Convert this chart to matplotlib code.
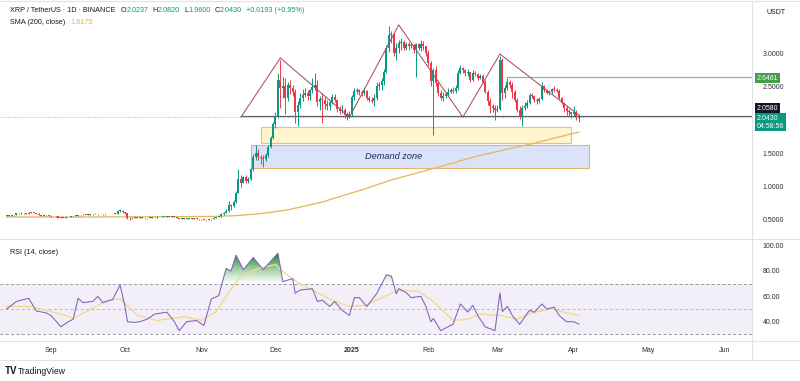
import matplotlib
matplotlib.use("Agg")
import matplotlib.pyplot as plt
import matplotlib.dates as mdates
from matplotlib.patches import Rectangle
from matplotlib.path import Path
from matplotlib.colors import LinearSegmentedColormap
from matplotlib.lines import Line2D
import numpy as np
import pandas as pd

plt.rcParams['font.family'] = ['Liberation Sans', 'DejaVu Sans']

# ---- daily XRP/USDT candles, 2024-08-14 .. 2025-04-03 (open = previous close)
start_date = "2024-08-14"
first_open = 0.560
closes = [
    # Aug
    0.566, 0.567, 0.568, 0.571, 0.602, 0.600, 0.603, 0.605, 0.596, 0.612, 0.607, 0.606, 0.592, 0.575, 0.567, 0.571, 0.568, 0.563,
    # Sep
    0.558, 0.562, 0.556, 0.536, 0.531, 0.531, 0.541, 0.549, 0.555, 0.562, 0.567, 0.570, 0.573, 0.577, 0.576, 0.579, 0.585, 0.589,
    0.590, 0.588, 0.589, 0.586, 0.589, 0.590, 0.589, 0.590, 0.592, 0.635, 0.641, 0.614,
    # Oct
    0.600, 0.531, 0.525, 0.535, 0.533, 0.538, 0.531, 0.532, 0.527, 0.531, 0.537, 0.541, 0.538, 0.549, 0.543, 0.547, 0.547, 0.549,
    0.547, 0.553, 0.542, 0.532, 0.519, 0.526, 0.516, 0.521, 0.524, 0.521, 0.530, 0.518, 0.510,
    # Nov
    0.508, 0.502, 0.497, 0.508, 0.512, 0.535, 0.545, 0.556, 0.590, 0.610, 0.631, 0.720, 0.705, 0.770, 0.910, 1.110, 1.060, 1.140,
    1.090, 1.110, 1.260, 1.440, 1.500, 1.450, 1.430, 1.410, 1.470, 1.600, 1.730, 1.940,
    # Dec
    2.060, 2.600, 2.480, 2.500, 2.320, 2.520, 2.470, 2.420, 2.120, 2.220, 2.330, 2.370, 2.400, 2.350, 2.440, 2.490, 2.520, 2.270,
    2.310, 2.290, 2.230, 2.200, 2.270, 2.340, 2.290, 2.160, 2.130, 2.150, 2.070, 2.050, 2.080,
    # Jan
    2.340, 2.430, 2.440, 2.410, 2.400, 2.430, 2.330, 2.300, 2.280, 2.320, 2.500, 2.520, 2.580, 2.720, 3.080, 3.270, 3.280, 3.000,
    3.080, 3.150, 3.160, 3.080, 3.130, 3.100, 3.120, 3.040, 3.130, 3.080, 3.130, 3.100, 3.000,
    # Feb
    2.850, 2.580, 2.750, 2.550, 2.400, 2.330, 2.350, 2.380, 2.420, 2.440, 2.430, 2.480, 2.700, 2.780, 2.740, 2.700, 2.710, 2.600,
    2.700, 2.680, 2.620, 2.660, 2.570, 2.420, 2.280, 2.200, 2.170, 2.140,
    # Mar
    2.160, 2.900, 2.400, 2.480, 2.560, 2.520, 2.420, 2.300, 2.150, 2.050, 2.170, 2.210, 2.250, 2.370, 2.350, 2.300, 2.280, 2.310,
    2.500, 2.440, 2.400, 2.410, 2.460, 2.450, 2.430, 2.330, 2.250, 2.170, 2.130, 2.110, 2.080,
    # Apr
    2.120, 2.0237, 2.0430,
]
highs = [
    0.572, 0.575, 0.574, 0.576, 0.610, 0.612, 0.615, 0.612, 0.608, 0.620, 0.616, 0.612, 0.610, 0.598, 0.580, 0.580, 0.576, 0.572,
    0.568, 0.566, 0.567, 0.560, 0.542, 0.537, 0.546, 0.552, 0.560, 0.567, 0.575, 0.576, 0.578, 0.584, 0.582, 0.585, 0.592, 0.596,
    0.598, 0.596, 0.594, 0.593, 0.596, 0.597, 0.596, 0.597, 0.600, 0.645, 0.660, 0.645,
    0.625, 0.605, 0.540, 0.540, 0.541, 0.542, 0.544, 0.538, 0.536, 0.535, 0.542, 0.546, 0.545, 0.555, 0.552, 0.553, 0.552, 0.556,
    0.552, 0.558, 0.556, 0.545, 0.536, 0.530, 0.530, 0.525, 0.528, 0.529, 0.535, 0.533, 0.522,
    0.516, 0.512, 0.506, 0.512, 0.518, 0.545, 0.552, 0.565, 0.598, 0.625, 0.660, 0.780, 0.740, 0.800, 0.930, 1.270, 1.170, 1.160,
    1.170, 1.140, 1.280, 1.490, 1.630, 1.560, 1.480, 1.470, 1.500, 1.620, 1.750, 1.960,
    2.120, 2.700, 2.900, 2.640, 2.620, 2.570, 2.600, 2.520, 2.460, 2.280, 2.400, 2.460, 2.480, 2.440, 2.460, 2.620, 2.700, 2.590,
    2.360, 2.400, 2.340, 2.300, 2.300, 2.380, 2.380, 2.310, 2.200, 2.220, 2.180, 2.120, 2.130,
    2.370, 2.480, 2.470, 2.460, 2.440, 2.480, 2.450, 2.360, 2.340, 2.380, 2.560, 2.560, 2.620, 2.760, 3.120, 3.400, 3.330, 3.300,
    3.150, 3.200, 3.220, 3.200, 3.170, 3.160, 3.150, 3.130, 3.150, 3.150, 3.190, 3.180, 3.110,
    3.050, 2.880, 2.780, 2.800, 2.600, 2.450, 2.420, 2.420, 2.470, 2.480, 2.490, 2.520, 2.740, 2.820, 2.790, 2.760, 2.760, 2.720,
    2.740, 2.730, 2.700, 2.690, 2.680, 2.600, 2.450, 2.320, 2.240, 2.220,
    2.220, 2.950, 2.920, 2.520, 2.620, 2.600, 2.560, 2.440, 2.320, 2.210, 2.220, 2.270, 2.290, 2.400, 2.400, 2.370, 2.320, 2.340,
    2.560, 2.520, 2.460, 2.440, 2.480, 2.500, 2.480, 2.460, 2.340, 2.270, 2.200, 2.160, 2.120,
    2.200, 2.140, 2.0820,
]
lows = [
    0.556, 0.560, 0.562, 0.565, 0.568, 0.592, 0.595, 0.595, 0.588, 0.592, 0.601, 0.600, 0.586, 0.568, 0.557, 0.562, 0.561, 0.558,
    0.552, 0.553, 0.551, 0.530, 0.525, 0.524, 0.528, 0.538, 0.545, 0.551, 0.557, 0.563, 0.566, 0.569, 0.570, 0.571, 0.576, 0.581,
    0.584, 0.582, 0.584, 0.580, 0.582, 0.584, 0.583, 0.584, 0.586, 0.588, 0.626, 0.606,
    0.596, 0.520, 0.505, 0.522, 0.527, 0.529, 0.526, 0.525, 0.522, 0.520, 0.527, 0.533, 0.534, 0.535, 0.538, 0.540, 0.541, 0.543,
    0.543, 0.545, 0.538, 0.528, 0.512, 0.514, 0.510, 0.513, 0.516, 0.516, 0.518, 0.512, 0.505,
    0.500, 0.496, 0.490, 0.493, 0.503, 0.508, 0.528, 0.540, 0.550, 0.582, 0.600, 0.625, 0.650, 0.690, 0.760, 0.900, 0.990, 1.050,
    1.050, 1.060, 1.100, 1.230, 1.400, 1.400, 1.340, 1.300, 1.380, 1.450, 1.580, 1.720,
    1.880, 2.030, 2.180, 2.330, 2.080, 2.280, 2.380, 2.350, 1.950, 1.900, 2.180, 2.280, 2.340, 2.300, 2.300, 2.400, 2.440, 2.200,
    2.150, 1.950, 2.160, 2.150, 2.150, 2.240, 2.260, 2.120, 2.090, 2.100, 2.030, 2.000, 2.020,
    2.060, 2.300, 2.380, 2.370, 2.360, 2.370, 2.300, 2.260, 2.250, 2.200, 2.300, 2.450, 2.450, 2.520, 2.700, 3.020, 3.150, 2.950,
    2.900, 3.000, 3.050, 3.040, 3.050, 3.050, 3.070, 3.000, 2.640, 3.050, 3.030, 3.050, 2.950,
    2.800, 2.500, 1.770, 2.500, 2.360, 2.300, 2.280, 2.320, 2.350, 2.400, 2.400, 2.400, 2.450, 2.680, 2.700, 2.660, 2.660, 2.560,
    2.580, 2.650, 2.590, 2.610, 2.550, 2.400, 2.220, 2.100, 2.110, 1.990,
    2.110, 2.140, 2.300, 2.330, 2.440, 2.470, 2.320, 2.260, 2.110, 2.010, 1.900, 2.140, 2.170, 2.230, 2.320, 2.270, 2.240, 2.250,
    2.290, 2.420, 2.380, 2.370, 2.390, 2.410, 2.410, 2.310, 2.230, 2.120, 2.070, 2.060, 2.020,
    2.050, 1.990, 1.9600,
]

# ---- SMA(200, close)
sma_dates = ["2024-08-14", "2024-09-15", "2024-10-15", "2024-11-05", "2024-11-15", "2024-11-25", "2024-12-05",
             "2024-12-12", "2024-12-20", "2024-12-27", "2025-01-05", "2025-01-17", "2025-02-04", "2025-02-20",
             "2025-03-05", "2025-03-16", "2025-04-03"]
sma_vals = [0.545, 0.545, 0.55, 0.553, 0.565, 0.595, 0.645, 0.70, 0.77, 0.85, 0.95, 1.10, 1.28, 1.45, 1.56, 1.65, 1.8175]

# ---- RSI(14) and its MA
rsi_dates = ["2024-08-14", "2024-08-18", "2024-08-23", "2024-08-26", "2024-08-30",
             "2024-09-01", "2024-09-05", "2024-09-08", "2024-09-10", "2024-09-12", "2024-09-14", "2024-09-18", "2024-09-20",
             "2024-09-22", "2024-09-26", "2024-09-29",
             "2024-10-01", "2024-10-02", "2024-10-05", "2024-10-07", "2024-10-10", "2024-10-13", "2024-10-18", "2024-10-21",
             "2024-10-23", "2024-10-26", "2024-10-30",
             "2024-11-02", "2024-11-05", "2024-11-08", "2024-11-11", "2024-11-13", "2024-11-15", "2024-11-18", "2024-11-22",
             "2024-11-26",
             "2024-12-02", "2024-12-04", "2024-12-08", "2024-12-09", "2024-12-11", "2024-12-16", "2024-12-18", "2024-12-20",
             "2024-12-23", "2024-12-25", "2024-12-28", "2024-12-31",
             "2025-01-02", "2025-01-04", "2025-01-07", "2025-01-11", "2025-01-15", "2025-01-17", "2025-01-19", "2025-01-20",
             "2025-01-23", "2025-01-25", "2025-01-29", "2025-01-31",
             "2025-02-02", "2025-02-03", "2025-02-06", "2025-02-09", "2025-02-11", "2025-02-14", "2025-02-17", "2025-02-19",
             "2025-02-21", "2025-02-24", "2025-02-26", "2025-02-28",
             "2025-03-02", "2025-03-03", "2025-03-05", "2025-03-07", "2025-03-10", "2025-03-12", "2025-03-14", "2025-03-16",
             "2025-03-19", "2025-03-21", "2025-03-24", "2025-03-26", "2025-03-29",
             "2025-04-01", "2025-04-03"]
rsi_vals = [50, 56, 58.5, 48.5, 47,
            45, 36, 40, 42, 58.5, 55, 56, 60, 55, 57.5, 69,
            52, 40, 39.5, 40, 42, 46, 47.5, 40, 33, 40, 41,
            37, 58, 60.5, 82, 80, 92.5, 81, 90.6, 81,
            94, 71.6, 74, 62.5, 65, 66, 56, 57, 52, 56, 49, 45,
            59, 59, 52, 62, 77, 76, 62, 66, 63, 59, 60, 52,
            40, 42.5, 33, 36, 38, 54, 47.5, 53, 45, 36, 34.5, 33,
            62.7, 48, 52, 45, 38, 43.5, 49, 47.5, 54, 50, 51.5, 45, 40,
            40, 38.13]
rsi_ma_dates = ["2024-08-14", "2024-08-24", "2024-09-07", "2024-09-10", "2024-09-24", "2024-09-29", "2024-10-06",
                "2024-10-14", "2024-10-25", "2024-11-01", "2024-11-07", "2024-11-12", "2024-11-17", "2024-11-24",
                "2024-12-01", "2024-12-05", "2024-12-10", "2024-12-17", "2024-12-24", "2024-12-31", "2025-01-07",
                "2025-01-13", "2025-01-20", "2025-01-28", "2025-02-03", "2025-02-11", "2025-02-17", "2025-02-22",
                "2025-03-02", "2025-03-09", "2025-03-15", "2025-03-23", "2025-03-29", "2025-04-03"]
rsi_ma_vals = [52, 52, 45, 42.5, 57, 58, 45, 41, 44, 41, 48, 63, 76, 82, 85, 78, 71, 64, 57, 52,
               53, 59, 65, 64, 56, 41, 42, 46, 45, 42, 47, 50, 47, 44.89]

# ---- drawings
zigzag_dates = ["2024-11-17", "2024-12-03", "2024-12-31", "2025-01-20", "2025-02-15", "2025-03-02", "2025-04-03"]
zigzag_prices = [2.04, 2.925, 2.04, 3.42, 2.04, 2.985, 2.07]
support_level, support_from = 2.058, "2024-11-17"
resist_level, resist_from = 2.6461, "2025-03-05"
zone_yellow = ("2024-11-25", "2025-03-31", 1.653, 1.892)
zone_demand = ("2024-11-21", "2025-04-07", 1.278, 1.623)
month_ticks = ["2024-09-01", "2024-10-01", "2024-11-01", "2024-12-01", "2025-01-01",
               "2025-02-01", "2025-03-01", "2025-04-01", "2025-05-01", "2025-06-01"]
month_labels = ["Sep", "Oct", "Nov", "Dec", "2025", "Feb", "Mar", "Apr", "May", "Jun"]
price_ticks = [0.5, 1.0, 1.5, 2.5, 3.0]
rsi_ticks = [40, 60, 80, 100]

UP, DOWN = "#089981", "#f23645"
W, H = 800, 381


def fx(px):
    return px / W


def fy(py):
    return 1 - py / H


def dn(s):
    return mdates.date2num(pd.to_datetime(s))


fig = plt.figure(figsize=(W / 100, H / 100), dpi=100)
ax = fig.add_axes([0, fy(238), fx(752), (238 - 2) / H])
axr = fig.add_axes([0, fy(340), fx(752), 100 / H], sharex=ax)

d0 = dn(start_date)
ax.set_xlim(d0 - 2.67, d0 + 302.2)
ax.set_ylim(0.2305, 3.7635)

# candles
x = mdates.date2num(pd.date_range(start_date, periods=len(closes), freq="D"))
c = np.array(closes)
o = np.array([first_open] + closes[:-1])
hi = np.array(highs)
lo = np.array(lows)
col = np.where(c >= o, UP, DOWN)
ax.vlines(x, lo, hi, colors=col, lw=0.7, zorder=4)
ax.bar(x, np.maximum(np.abs(c - o), 0.008), bottom=np.minimum(o, c), width=0.8,
       color=col, lw=0, zorder=5)

# zones
for (a, b, y0, y1), fc, ec in [(zone_demand, "#dbe3fa", "#e3b46c"), (zone_yellow, "#fff5cf", "#e8c36e")]:
    ax.add_patch(Rectangle((dn(a), y0), dn(b) - dn(a), y1 - y0, fc=fc, ec=ec, lw=0.8, zorder=2))
ax.text(dn("2025-01-18"), (zone_demand[2] + zone_demand[3]) / 2, "Demand zone", style="italic",
        fontsize=6.6, color="#1d2b55", ha="center", va="center", zorder=6)

# SMA
ax.plot(mdates.date2num(pd.to_datetime(sma_dates)), sma_vals, color="#e8b45c", lw=0.9, zorder=3)

# lines
xr = ax.get_xlim()[1]
ax.plot([dn(support_from), xr], [support_level] * 2, color="#5d6066", lw=0.9, zorder=3)
ax.plot([dn(resist_from), xr], [resist_level] * 2, color="#8fbf86", lw=0.9, zorder=3)
ax.axhline(closes[-1], color="#8a9a9a", lw=0.6, ls=(0, (1, 2)), zorder=3)
ax.plot(mdates.date2num(pd.to_datetime(zigzag_dates)), zigzag_prices, color="#a8505f", lw=0.75, zorder=6)

# RSI pane
axr.axhspan(30, 70, color="#7e57c2", alpha=0.09, lw=0)
for lvl, a in [(70, 1), (50, 0.6), (30, 1)]:
    axr.axhline(lvl, color="#9598a1", lw=0.7, ls=(0, (3, 2.5)), alpha=a)
rx = mdates.date2num(pd.to_datetime(rsi_dates))
ry = np.array(rsi_vals)
fb = axr.fill_between(rx, 70, ry, where=ry > 70, interpolate=True, facecolor="none", lw=0)
paths = fb.get_paths()
if paths:
    cmap = LinearSegmentedColormap.from_list("ob", [(0.35, 0.72, 0.36, 0.0), (0.12, 0.50, 0.22, 1.0)])
    img = axr.imshow(np.linspace(0, 1, 100).reshape(-1, 1), cmap=cmap, aspect="auto", origin="lower",
                     extent=[rx[0], rx[-1], 70, 93], zorder=1)
    img.set_clip_path(Path.make_compound_path(*paths), transform=axr.transData)
axr.set_ylim(25.6, 104.4)
axr.plot(mdates.date2num(pd.to_datetime(rsi_ma_dates)), rsi_ma_vals, color="#f3d98e", lw=1.0, zorder=2)
axr.plot(rx, ry, color="#7e62b8", lw=0.75, zorder=3)
ax.set_xlim(d0 - 2.67, d0 + 302.2)

# axes styling
for a in (ax, axr):
    for s in a.spines.values():
        s.set_visible(False)
    a.yaxis.tick_right()
    a.tick_params(axis="y", length=0, pad=7.5, labelsize=5, labelcolor="#2a2e39")
ax.set_yticks(price_ticks)
ax.set_yticklabels([f"{v:.4f}" for v in price_ticks])
axr.set_yticks(rsi_ticks)
axr.set_yticklabels([f"{v:.2f}" for v in rsi_ticks])
ax.tick_params(axis="x", bottom=False, labelbottom=False)
axr.set_xticks(mdates.date2num(pd.to_datetime(month_ticks)))
axr.set_xticklabels(month_labels)
axr.tick_params(axis="x", length=0, pad=5, labelsize=5, labelcolor="#2a2e39")
for t in axr.get_xticklabels():
    if t.get_text() == "2025":
        t.set_fontweight("bold")

# pane separators
for seg in [((0, 800), (1, 1)), ((0, 800), (239, 239)), ((0, 800), (341, 341)), ((752, 752), (1, 360)),
            ((0, 800), (360, 360))]:
    fig.add_artist(Line2D([fx(seg[0][0]), fx(seg[0][1])], [fy(seg[1][0]), fy(seg[1][1])],
                          color="#e0e3eb", lw=0.8))


# header texts
def chain(pieces, px, py, size=5.2):
    t = fig.text(fx(px), fy(py), pieces[0][0], color=pieces[0][1], fontsize=size, va="center")
    for s, cl, gap in pieces[1:]:
        t = ax.annotate(s, xy=(1, 0.5), xycoords=t, xytext=(gap, 0), textcoords="offset points",
                        color=cl, fontsize=size, va="center", annotation_clip=False)
    return t


DK = "#131722"
chain([("XRP / TetherUS · 1D · BINANCE", DK), ("O", DK, 4), ("2.0237", UP, 0), ("H", DK, 3), ("2.0820", UP, 0),
       ("L", DK, 3), ("1.9600", UP, 0), ("C", DK, 3), ("2.0430", UP, 0), ("+0.0193 (+0.95%)", UP, 3)], 10, 10)
chain([("SMA (200, close)", DK), ("1.8175", "#f0b12f", 4)], 10, 22)
chain([("RSI (14, close)", DK), ("38.13", "#8a7db0", 4), ("44.89", "#f0c75a", 4)], 10, 252)
fig.text(fx(776), fy(13), "USDT", fontsize=5, color=DK, ha="center", va="center")


# price badges
def badge(txt, py, fc):
    fig.text(fx(757), fy(py), txt, fontsize=5, color="white", ha="left", va="center",
             bbox=dict(boxstyle="square,pad=0.25", fc=fc, ec="none"))


badge("2.6461", 78, "#43a047")
badge("2.0580", 108, "#131722")
badge("2.0430\n04:58:56", 122, UP)

fig.text(fx(5), fy(371), "TV", fontsize=7, fontweight="bold", color=DK, va="center")
fig.text(fx(18), fy(371), "TradingView", fontsize=6.2, color=DK, va="center")

fig.savefig("out.png", dpi=100, facecolor="white")
